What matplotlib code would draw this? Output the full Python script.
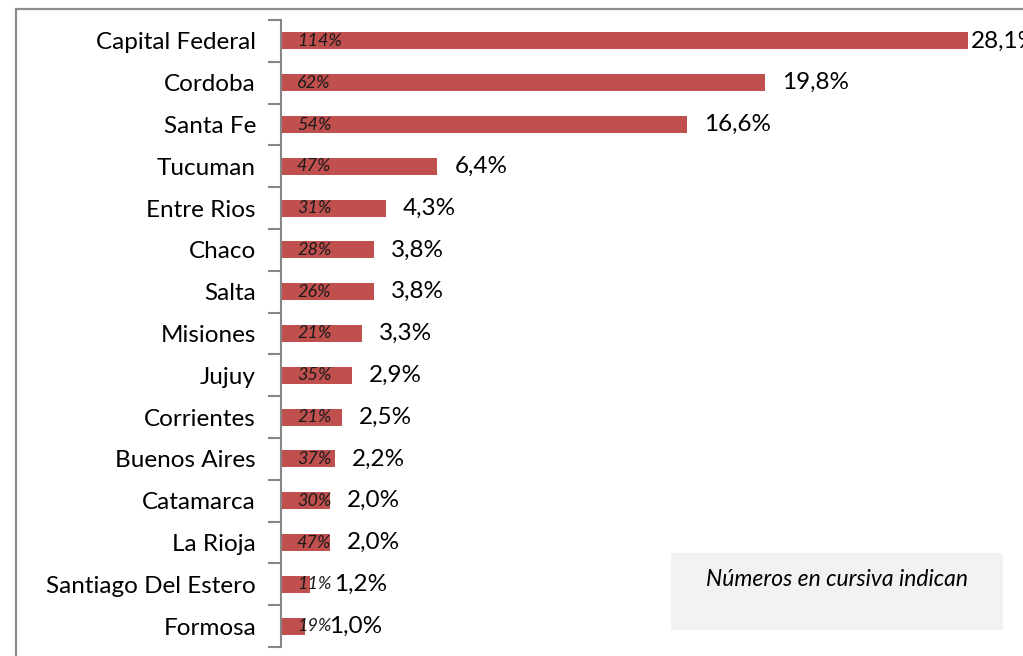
import matplotlib
matplotlib.use("Agg")
import matplotlib.pyplot as plt
from matplotlib.patches import Rectangle
from matplotlib.ticker import FixedLocator

plt.rcParams['font.family'] = ['Lato', 'DejaVu Sans']

provinces = ["Capital Federal", "Cordoba", "Santa Fe", "Tucuman", "Entre Rios",
             "Chaco", "Salta", "Misiones", "Jujuy", "Corrientes", "Buenos Aires",
             "Catamarca", "La Rioja", "Santiago Del Estero", "Formosa"]
share = [28.1, 19.8, 16.6, 6.4, 4.3, 3.8, 3.8, 3.3, 2.9, 2.5, 2.2, 2.0, 2.0, 1.2, 1.0]
italic_pct = [114, 62, 54, 47, 31, 28, 26, 21, 35, 21, 37, 30, 47, 11, 19]
note_text = "Números en cursiva indican"

W, H = 1023, 656
fig = plt.figure(figsize=(W / 100, H / 100), dpi=100)

# outer chart border (cropped on right and bottom)
fig.patches.append(Rectangle((16 / W, -0.05), 1.2, 1 - 9 / H + 0.05,
                             transform=fig.transFigure, fill=False,
                             edgecolor='#8c8c8c', linewidth=1.6, clip_on=False))

ax_left = 281 / W
ax_bottom = (H - 647) / H
ax_h = (647 - 20) / H
ax = fig.add_axes([ax_left, ax_bottom, 1 - ax_left, ax_h])

px_per_unit = (969 - 282) / 28.1
xmax = (W - 281) / px_per_unit

y = list(range(len(provinces)))
ax.barh(y, share, height=0.41, color='#C0504D', edgecolor='none')
ax.set_xlim(0, xmax)
ax.set_ylim(len(provinces) - 0.5, -0.5)

for s in ['top', 'right', 'bottom']:
    ax.spines[s].set_visible(False)
ax.spines['left'].set_color('#868686')
ax.spines['left'].set_linewidth(1.5)
ax.set_xticks([])

ax.set_yticks(y)
ax.set_yticklabels(provinces, fontsize=17.5, color='black')
ax.tick_params(axis='y', which='major', length=0, pad=18)
ax.yaxis.set_minor_locator(FixedLocator([i - 0.5 for i in range(len(provinces) + 1)]))
ax.tick_params(axis='y', which='minor', length=9.5, width=1.5, color='#868686', direction='out')

offsets = [3, 17, 17, 17, 17, 17, 17, 17, 17, 17, 17, 17, 17, 24, 24]
for i, (v, p) in enumerate(zip(share, italic_pct)):
    ax.annotate(f"{v:.1f}%".replace('.', ','), xy=(v, i), xytext=(offsets[i] * 0.72, 0),
                textcoords='offset points', va='center', ha='left', fontsize=17.5,
                color='black', annotation_clip=False)
    ax.annotate(f"{p}%", xy=(0, i), xytext=(16 * 0.72, 0), textcoords='offset points',
                va='center', ha='left', fontsize=13, style='italic', color='#1a1a1a')

# note box
fig.patches.append(Rectangle((671 / W, 1 - 630 / H), (1003 - 671) / W, (630 - 553) / H,
                             transform=fig.transFigure, facecolor='#f2f2f2',
                             edgecolor='none'))
fig.text(837 / W, 1 - 579 / H, note_text, ha='center', va='center',
         fontsize=16.5, style='italic', color='black')

fig.savefig('out.png', dpi=100)
